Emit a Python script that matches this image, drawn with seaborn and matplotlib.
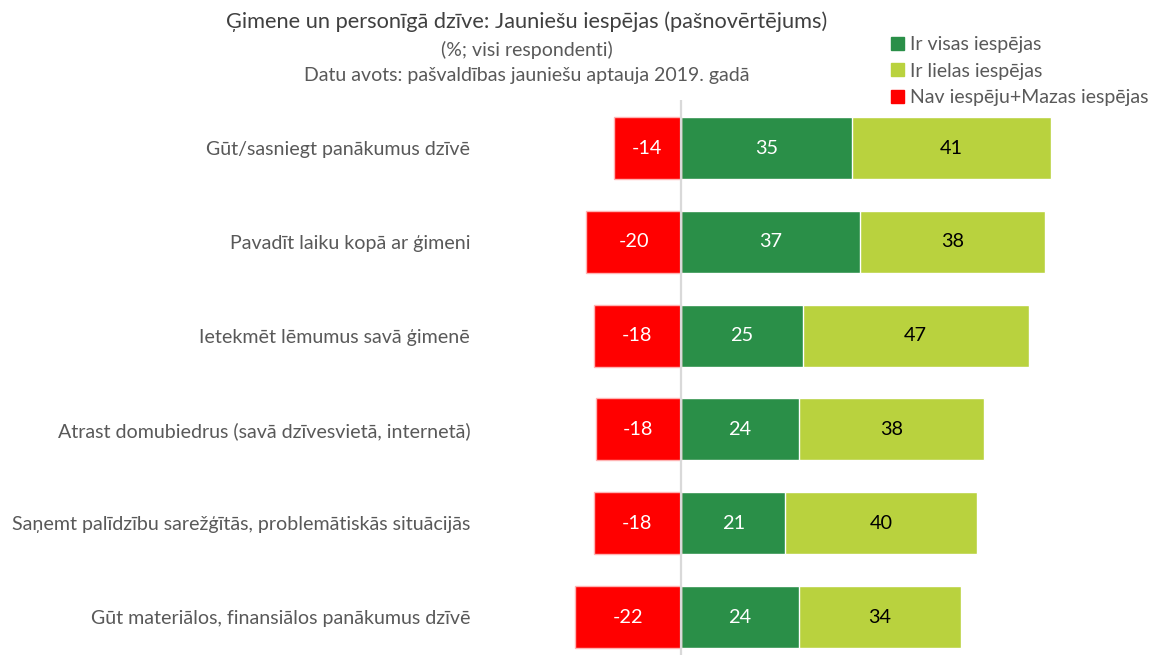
import matplotlib
matplotlib.use("Agg")
import matplotlib.pyplot as plt
import seaborn as sns
import pandas as pd
from matplotlib.patches import Patch

categories = [
    "Gūt/sasniegt panākumus dzīvē",
    "Pavadīt laiku kopā ar ģimeni",
    "Ietekmēt lēmumus savā ģimenē",
    "Atrast domubiedrus (savā dzīvesvietā, internetā)",
    "Saņemt palīdzību sarežģītās, problemātiskās situācijās",
    "Gūt materiālos, finansiālos panākumus dzīvē",
]
visas = [35.1, 36.8, 25.0, 24.2, 21.4, 24.2]
lielas = [40.9, 38.0, 46.4, 38.0, 39.4, 33.3]
nav = [-13.8, -19.5, -17.9, -17.5, -17.9, -21.8]
labels_visas = [35, 37, 25, 24, 21, 24]
labels_lielas = [41, 38, 47, 38, 40, 34]
labels_nav = [-14, -20, -18, -18, -18, -22]

series_names = ["Ir visas iespējas", "Ir lielas iespējas", "Nav iespēju+Mazas iespējas"]
c_dark = "#2A8F48"
c_light = "#B9D23E"
c_red = "#FF0000"
text_gray = "#595959"

sns.set_theme(style="white")
plt.rcParams["font.family"] = ["Lato", "DejaVu Sans"]

df = pd.DataFrame({"cat": categories, "visas": visas, "lielas": lielas, "nav": nav})
df["total"] = df["visas"] + df["lielas"]

W, H = 1154, 655
fig = plt.figure(figsize=(W / 100, H / 100), dpi=100)
x0 = -40
x1 = 93
pxu = 4.87
left_px = 681 + x0 * pxu
right_px = 681 + x1 * pxu
ax = fig.add_axes([left_px / W, 0, (right_px - left_px) / W, (655 - 100) / H])

bw = 0.66
sns.barplot(data=df, y="cat", x="total", color=c_light, orient="h", width=bw,
            ax=ax, saturation=1, edgecolor="white", linewidth=1)
sns.barplot(data=df, y="cat", x="visas", color=c_dark, orient="h", width=bw,
            ax=ax, saturation=1, edgecolor="white", linewidth=1)
sns.barplot(data=df, y="cat", x="nav", color=c_red, orient="h", width=bw,
            ax=ax, saturation=1, edgecolor="#FFB3B3", linewidth=1)

ax.set_xlim(x0, x1)
ax.set_ylim(5.405, -0.512)
ax.axvline(0, color="#D9D9D9", lw=1.6, zorder=10)

fs = 14.3
for i in range(len(categories)):
    ax.text(nav[i] / 2, i, f"{labels_nav[i]}", ha="center", va="center", color="white", fontsize=fs)
    ax.text(visas[i] / 2, i, f"{labels_visas[i]}", ha="center", va="center", color="white", fontsize=fs)
    ax.text(visas[i] + lielas[i] / 2, i, f"{labels_lielas[i]}", ha="center", va="center", color="black", fontsize=fs)

ax.set_xlabel("")
ax.set_ylabel("")
ax.set_xticks([])
ax.tick_params(axis="y", length=0, pad=11.5, labelsize=14.1, labelcolor=text_gray)
for s in ax.spines.values():
    s.set_visible(False)

fig.text(527 / W, 1 - 22 / H, "Ģimene un personīgā dzīve: Jauniešu iespējas (pašnovērtējums)",
         ha="center", va="center", fontsize=15.7, color="#404040")
fig.text(527 / W, 1 - 50 / H, "(%; visi respondenti)", ha="center", va="center", fontsize=14, color=text_gray)
fig.text(527 / W, 1 - 76 / H, "Datu avots: pašvaldības jauniešu aptauja 2019. gadā", ha="center",
         va="center", fontsize=14, color=text_gray)

handles = [Patch(color=c_dark), Patch(color=c_light), Patch(color=c_red)]
leg = fig.legend(handles, series_names, loc="upper left", bbox_to_anchor=(891 / W, 1 - 36 / H),
                 frameon=False, fontsize=14, handlelength=0.65, handleheight=0.65,
                 handletextpad=0.35, labelspacing=0.5, borderaxespad=0, borderpad=0)
for t in leg.get_texts():
    t.set_color(text_gray)

fig.savefig("out.png", dpi=100)
